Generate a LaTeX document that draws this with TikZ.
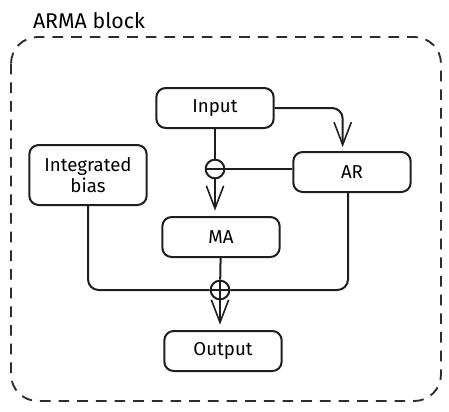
\documentclass[tikz,border=0pt]{standalone}
\usepackage{fontspec}
\setmainfont{Fira Sans}
\usetikzlibrary{arrows.meta}
\definecolor{white}{RGB}{255,255,255}
\definecolor{ink}{RGB}{30,30,30}
\definecolor{frame}{RGB}{45,45,45}

\begin{document}
\begin{tikzpicture}[x=0.75pt,y=-0.75pt,
	block/.style={draw=ink,fill=white,line width=1.5pt,rounded corners=7pt,minimum width=88pt,minimum height=30pt,align=center,font=\fontsize{14}{16}\selectfont},
	junction/.style={circle,draw=ink,line width=1.5pt,minimum size=14pt,inner sep=0pt},
	wire/.style={draw=ink,line width=1.5pt,rounded corners=8pt},
	flow/.style={wire,-{Straight Barb[length=17pt,width=13pt,line width=1.2pt]}}]
	\useasboundingbox (0,0) rectangle (449,411);
	\draw[frame,line width=1.4pt,dash pattern=on 8pt off 6pt,rounded corners=20pt] (11,37) rectangle (441,401);
	\node[font=\fontsize{16}{18}\selectfont] (title) at (89,21) {ARMA block};

	\node[block] (input) at (215,108) {Input};
	\node[block] (ar) at (352,172) {AR};
	\node[block,minimum height=45pt] (bias) at (88,175) {Integrated\\bias};
	\node[block] (ma) at (221,237) {MA};
	\node[block] (output) at (223,351) {Output};
	\node[junction,path picture={\draw[ink,line width=1.5pt] (path picture bounding box.west) -- (path picture bounding box.east);}] (sub) at (215,169) {};
	\node[junction,path picture={\draw[ink,line width=1.5pt] (path picture bounding box.west) -- (path picture bounding box.east) (path picture bounding box.north) -- (path picture bounding box.south);}] (add) at (220,290) {};

	\foreach \a/\b in {input/sub,ma/add}
		\draw[wire] (\a) -- (\b);
	\draw[flow] (input.east) -| ([xshift=-7pt,yshift=3pt]ar.north);
	\draw[wire] (ar.west |- sub) -- (sub.east);
	\draw[flow,shorten >=4pt] (sub.south) -- (sub |- ma.north);
	\draw[wire] (bias.south) |- (add.west);
	\draw[wire] ([xshift=-3pt]ar.south) |- (add.east);
	\draw[flow,shorten >=4pt] (add.south) -- (add |- output.north);
\end{tikzpicture}
\end{document}
